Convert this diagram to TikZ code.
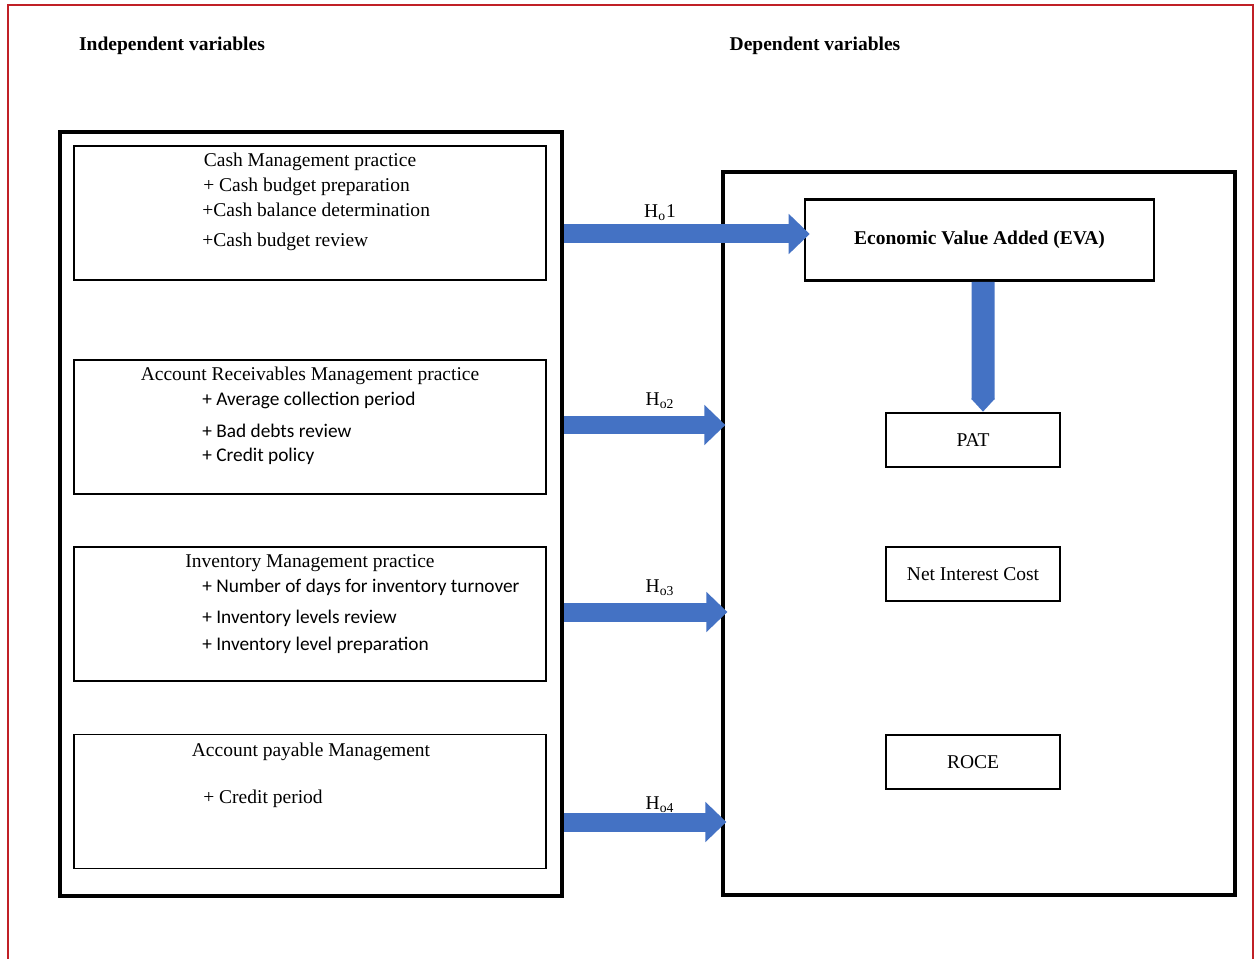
\documentclass[tikz,border=0pt]{standalone}
\usepackage{fontspec}
\setmainfont{Liberation Serif}
\newfontfamily\calibri{Carlito}
\usetikzlibrary{arrows.meta}
\definecolor{arrowblue}{HTML}{4472C4}
\definecolor{framered}{RGB}{192,32,38}

\begin{document}
\begin{tikzpicture}[
    x=0.02cm, y=-0.02cm,
    txt/.style={inner sep=0pt, font=\fontsize{11.1}{13}\selectfont},
    item/.style={txt, anchor=west},
    calitem/.style={item, font=\calibri\fontsize{11}{13}\selectfont},
    heading/.style={inner sep=0pt, font=\fontsize{11.1}{13}\selectfont\bfseries},
    practicebox/.style={draw, line width=1pt, minimum width=9.44cm, minimum height=2.68cm, inner sep=0pt},
    measurebox/.style={draw, line width=1.5pt, minimum width=3.48cm, minimum height=1.08cm, txt},
    blockarrow/.style={arrowblue, line width=0.38cm, -{Triangle[length=0.42cm, width=0.78cm]}}
]
\useasboundingbox (0,0) rectangle (1254,959);
\draw[framered, line width=1pt] (8,975) -- (8,5) -- (1253,5) -- (1253,975);

\node[heading](indeptitle) at (172, 46) {Independent variables};
\node[heading](deptitle) at (815, 46) {Dependent variables};

% left side
\node[draw, line width=2.3pt, minimum width=10.04cm, minimum height=15.28cm](indep) at (311, 514) {};
\node[practicebox](cash) at (310, 213) {};
\node[practicebox](recv) at (310, 427) {};
\node[practicebox](inv) at (310, 614) {};
\node[practicebox](pay) at (310, 801.5) {};

\node[txt](cashtitle) at (310, 162) {Cash Management practice};
\node[item](casha) at (203, 187) {+ Cash budget preparation};
\node[item](cashb) at (202, 210) {+Cash balance determination};
\node[item](cashc) at (202, 242) {+Cash budget review};

\node[txt](recvtitle) at (310, 376) {Account Receivables Management practice};
\node[calitem](recva) at (202, 400) {+ Average collection period};
\node[calitem](recvb) at (202, 431) {+ Bad debts review};
\node[calitem](recvc) at (202, 456) {+ Credit policy};

\node[txt](invtitle) at (310, 563) {Inventory Management practice};
\node[calitem](inva) at (202, 587) {+ Number of days for inventory turnover};
\node[calitem](invb) at (202, 618) {+ Inventory levels review};
\node[calitem](invc) at (202, 645) {+ Inventory level preparation};

\node[txt](paytitle) at (311, 752) {Account payable Management};
\node[item](paya) at (203, 799) {+ Credit period};

% right side
\node[draw, line width=1.9pt, minimum width=10.24cm, minimum height=14.46cm](dep) at (979, 533.5) {};
\node[draw, line width=1.5pt, minimum width=6.98cm, minimum height=1.62cm, heading](eva) at (979.5, 240) {Economic Value Added (EVA)};
\node[measurebox](pat) at (973, 440) {PAT};
\node[measurebox](nic) at (973, 574) {Net Interest Cost};
\node[measurebox](roce) at (973, 762) {ROCE};

% hypotheses
\coordinate (h1) at (0, 234);
\coordinate (h2) at (0, 425);
\coordinate (h3) at (0, 612);
\coordinate (h4) at (0, 822);
\draw[blockarrow] (indep.east |- h1) -- ([xshift=0.12cm]eva.west |- h1);
\draw[blockarrow] (indep.east |- h2) -- ([xshift=0.08cm]dep.west |- h2);
\draw[blockarrow] (indep.east |- h3) -- ([xshift=0.12cm]dep.west |- h3);
\draw[blockarrow] (indep.east |- h4) -- ([xshift=0.1cm]dep.west |- h4);
\draw[arrowblue, line width=0.46cm, -{Triangle[length=0.26cm, width=0.46cm]}] ([xshift=0.07cm]eva.south) -- ([xshift=0.2cm]pat.north);

\node[txt](ho1) at (660, 213) {H\textsubscript{o}1};
\node[txt](ho2) at (660, 401) {H\textsubscript{o2}};
\node[txt](ho3) at (660, 588) {H\textsubscript{o3}};
\node[txt](ho4) at (660, 805) {H\textsubscript{o4}};
\end{tikzpicture}
\end{document}
